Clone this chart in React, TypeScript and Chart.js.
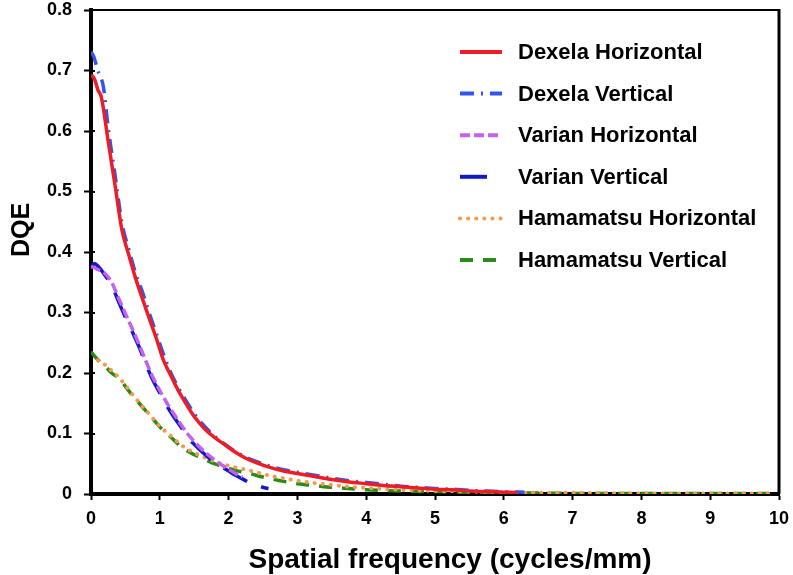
import { useEffect, useRef } from "react";
import { Chart, registerables } from "chart.js";
Chart.register(...registerables);

const FONT = "'Liberation Sans', Arial, sans-serif";

const seriesNames = [
  "Dexela Horizontal",
  "Dexela Vertical",
  "Varian Horizontal",
  "Varian Vertical",
  "Hamamatsu Horizontal",
  "Hamamatsu Vertical",
];

const xTickValues = [0, 1, 2, 3, 4, 5, 6, 7, 8, 9, 10];
const yTickValues = [0, 0.1, 0.2, 0.3, 0.4, 0.5, 0.6, 0.7, 0.8];

const dexelaHX = [0, 0.05, 0.1, 0.15, 0.25, 0.35, 0.45, 0.55, 0.65, 0.75, 0.85, 0.95, 1.05, 1.15, 1.25, 1.35, 1.5, 1.65, 1.8, 1.95, 2.1, 2.25, 2.4, 2.6, 2.8, 3.0, 3.25, 3.5, 3.75, 4.0, 4.25, 4.5, 4.75, 5.0, 5.25, 5.5, 5.75, 6.0, 6.2];
const dexelaHY = [0.693, 0.686, 0.668, 0.656, 0.583, 0.51, 0.436, 0.395, 0.356, 0.322, 0.289, 0.257, 0.222, 0.198, 0.175, 0.155, 0.128, 0.108, 0.093, 0.081, 0.069, 0.059, 0.052, 0.044, 0.038, 0.034, 0.029, 0.024, 0.02, 0.017, 0.014, 0.012, 0.01, 0.008, 0.007, 0.005, 0.004, 0.003, 0.002];

const dexelaVX = [0, 0.04, 0.1, 0.18, 0.25, 0.35, 0.45, 0.55, 0.65, 0.75, 0.85, 0.95, 1.05, 1.15, 1.25, 1.35, 1.5, 1.65, 1.8, 1.95, 2.1, 2.25, 2.4, 2.6, 2.8, 3.0, 3.25, 3.5, 3.75, 4.0, 4.25, 4.5, 4.75, 5.0, 5.25, 5.5, 5.75, 6.0, 6.3];
const dexelaVY = [0.731, 0.723, 0.7, 0.673, 0.605, 0.527, 0.448, 0.404, 0.364, 0.333, 0.298, 0.265, 0.232, 0.203, 0.18, 0.16, 0.133, 0.112, 0.095, 0.082, 0.07, 0.061, 0.054, 0.046, 0.04, 0.036, 0.031, 0.026, 0.022, 0.019, 0.016, 0.013, 0.011, 0.009, 0.008, 0.006, 0.005, 0.004, 0.003];

const varianHX = [0, 0.05, 0.1, 0.2, 0.3, 0.4, 0.5, 0.6, 0.7, 0.8, 0.9, 1.0, 1.1, 1.2, 1.3, 1.4, 1.5, 1.6, 1.7, 1.8, 1.9, 2.0, 2.1, 2.2];
const varianHY = [0.376, 0.374, 0.371, 0.365, 0.35, 0.324, 0.298, 0.273, 0.247, 0.219, 0.193, 0.171, 0.151, 0.133, 0.116, 0.1, 0.087, 0.075, 0.065, 0.056, 0.048, 0.041, 0.034, 0.028];

const varianVX = [0, 0.05, 0.1, 0.2, 0.3, 0.4, 0.5, 0.6, 0.7, 0.8, 0.9, 1.0, 1.1, 1.2, 1.3, 1.4, 1.5, 1.6, 1.7, 1.8, 1.9, 2.0, 2.1, 2.2, 2.3, 2.4, 2.5, 2.58];
const varianVY = [0.373, 0.381, 0.377, 0.362, 0.345, 0.318, 0.292, 0.268, 0.243, 0.214, 0.188, 0.167, 0.146, 0.128, 0.112, 0.095, 0.082, 0.071, 0.061, 0.052, 0.045, 0.038, 0.031, 0.025, 0.019, 0.015, 0.011, 0.009];

const hamaHX = [0.1, 0.2, 0.3, 0.4, 0.5, 0.6, 0.7, 0.8, 0.9, 1.0, 1.15, 1.3, 1.45, 1.6, 1.75, 1.9, 2.1, 2.3, 2.5, 2.75, 3.0, 3.25, 3.5, 3.75, 4.0, 4.5, 5.0, 5.5, 6.0, 6.5, 7, 8, 9, 9.9];
const hamaHY = [0.221, 0.214, 0.204, 0.193, 0.18, 0.165, 0.151, 0.138, 0.125, 0.112, 0.097, 0.082, 0.071, 0.063, 0.056, 0.05, 0.044, 0.039, 0.033, 0.027, 0.022, 0.018, 0.015, 0.012, 0.01, 0.007, 0.005, 0.004, 0.003, 0.002, 0.002, 0.001, 0.001, 0.001];

const hamaVX = [0, 0.1, 0.2, 0.3, 0.4, 0.5, 0.6, 0.7, 0.8, 0.9, 1.0, 1.15, 1.3, 1.45, 1.6, 1.75, 1.9, 2.1, 2.3, 2.5, 2.75, 3.0, 3.25, 3.5, 3.75, 4.0, 4.5, 5.0, 5.5, 6.0, 6.5, 7, 8, 9, 9.9];
const hamaVY = [0.235, 0.222, 0.212, 0.2, 0.192, 0.178, 0.163, 0.15, 0.137, 0.124, 0.111, 0.095, 0.079, 0.068, 0.06, 0.052, 0.046, 0.039, 0.034, 0.028, 0.022, 0.017, 0.014, 0.011, 0.009, 0.007, 0.005, 0.004, 0.003, 0.002, 0.0015, 0.001, 0.001, 0.001, 0.001];

const colors = ["#ee1c25", "#3454ee", "#c462ee", "#1018c8", "#f59a4a", "#2a8a1a"];
const dashes: number[][] = [[], [14, 7, 2, 7], [10, 4], [27, 15], [0.1, 8], [13, 10]];

function pairs(xs: number[], ys: number[]) {
  const n = Math.min(xs.length, ys.length);
  const out: { x: number; y: number }[] = [];
  for (let i = 0; i < n; i++) out.push({ x: xs[i], y: ys[i] });
  return out;
}

const seriesData = [
  pairs(dexelaHX, dexelaHY),
  pairs(dexelaVX, dexelaVY),
  pairs(varianHX, varianHY),
  pairs(varianVX, varianVY),
  pairs(hamaHX, hamaHY),
  pairs(hamaVX, hamaVY),
];

const decorPlugin = {
  id: "decor",
  afterDraw(chart: any) {
    const ctx = chart.ctx as CanvasRenderingContext2D;
    const a = chart.chartArea;
    ctx.save();
    ctx.strokeStyle = "#000";
    ctx.lineWidth = 2;
    ctx.beginPath();
    ctx.moveTo(a.left, a.top);
    ctx.lineTo(a.right, a.top);
    ctx.stroke();
    ctx.lineWidth = 3;
    ctx.beginPath();
    ctx.moveTo(a.right, a.top - 1);
    ctx.lineTo(a.right, a.bottom);
    ctx.stroke();

    // y ticks crossing into the plot slightly
    const ys = chart.scales.y;
    ctx.lineWidth = 2;
    yTickValues.forEach((v) => {
      const py = Math.round(ys.getPixelForValue(v));
      ctx.beginPath();
      ctx.moveTo(a.left, py);
      ctx.lineTo(a.left + 4, py);
      ctx.stroke();
    });

    // legend
    const lx0 = 460, lx1 = 502, tx = 518, ly0 = 52, dy = 41.6;
    chart.data.datasets.forEach((ds: any, i: number) => {
      const y = ly0 + i * dy;
      ctx.save();
      ctx.strokeStyle = ds.borderColor;
      ctx.lineWidth = 4;
      ctx.lineCap = ds.borderCapStyle || "butt";
      ctx.setLineDash(ds.borderDash || []);
      ctx.beginPath();
      ctx.moveTo(lx0, y);
      ctx.lineTo(lx1, y);
      ctx.stroke();
      ctx.restore();
      ctx.fillStyle = "#000";
      ctx.font = `bold 22px ${FONT}`;
      ctx.textBaseline = "middle";
      ctx.textAlign = "left";
      ctx.fillText(ds.label, tx, y + 1);
    });

    // axis titles
    ctx.fillStyle = "#000";
    ctx.font = `bold 28px ${FONT}`;
    ctx.textAlign = "center";
    ctx.textBaseline = "alphabetic";
    ctx.fillText("Spatial frequency (cycles/mm)", 450, 568);
    ctx.save();
    ctx.translate(22, 230);
    ctx.rotate(-Math.PI / 2);
    ctx.font = `bold 25px ${FONT}`;
    ctx.textBaseline = "middle";
    ctx.fillText("DQE", 0, 0);
    ctx.restore();
    ctx.restore();
  },
};

export default function App() {
  const ref = useRef<HTMLCanvasElement>(null);
  useEffect(() => {
    document.body.style.margin = "0";
    const tickFont = { family: FONT, size: 18, weight: "bold" as const };
    const chart = new Chart(ref.current!, {
      type: "line",
      data: {
        datasets: seriesNames.map((name, i) => ({
          label: name,
          data: seriesData[i],
          borderColor: colors[i],
          backgroundColor: colors[i],
          borderWidth: i === 4 ? 4 : 3.5,
          borderDash: dashes[i],
          borderCapStyle: i === 4 ? "round" : "butt",
          pointRadius: 0,
          fill: false,
          cubicInterpolationMode: "monotone",
        })) as any,
      },
      options: {
        responsive: false,
        animation: false,
        devicePixelRatio: 1,
        layout: { padding: { top: 10, right: 14, left: 0, bottom: 0 } },
        plugins: { legend: { display: false }, tooltip: { enabled: false } },
        scales: {
          x: {
            type: "linear",
            min: 0,
            max: 10,
            afterBuildTicks: (s: any) => {
              s.ticks = xTickValues.map((v) => ({ value: v }));
            },
            ticks: { font: tickFont, color: "#000", padding: 8, callback: (v: any) => String(v) },
            grid: { drawOnChartArea: false, tickLength: 6, tickWidth: 2, color: "#000" },
            border: { width: 4, color: "#000" },
            afterFit: (s: any) => {
              s.height = 81;
              s.paddingLeft = 0;
              s.paddingRight = 0;
            },
          },
          y: {
            type: "linear",
            min: 0,
            max: 0.8,
            afterBuildTicks: (s: any) => {
              s.ticks = yTickValues.map((v) => ({ value: v }));
            },
            ticks: {
              font: tickFont,
              color: "#000",
              padding: 12,
              callback: (v: any) => String(Number(Number(v).toFixed(1))),
            },
            grid: { drawOnChartArea: false, tickLength: 7, tickWidth: 2, color: "#000" },
            border: { width: 4, color: "#000" },
            afterFit: (s: any) => {
              s.width = 91;
              s.paddingTop = 0;
              s.paddingBottom = 0;
            },
          },
        },
      } as any,
      plugins: [decorPlugin],
    });
    return () => chart.destroy();
  }, []);
  return (
    <div style={{ position: "absolute", left: 0, top: 0, width: 793, height: 575, background: "#fff" }}>
      <canvas ref={ref} width={793} height={575} style={{ display: "block" }} />
    </div>
  );
}
